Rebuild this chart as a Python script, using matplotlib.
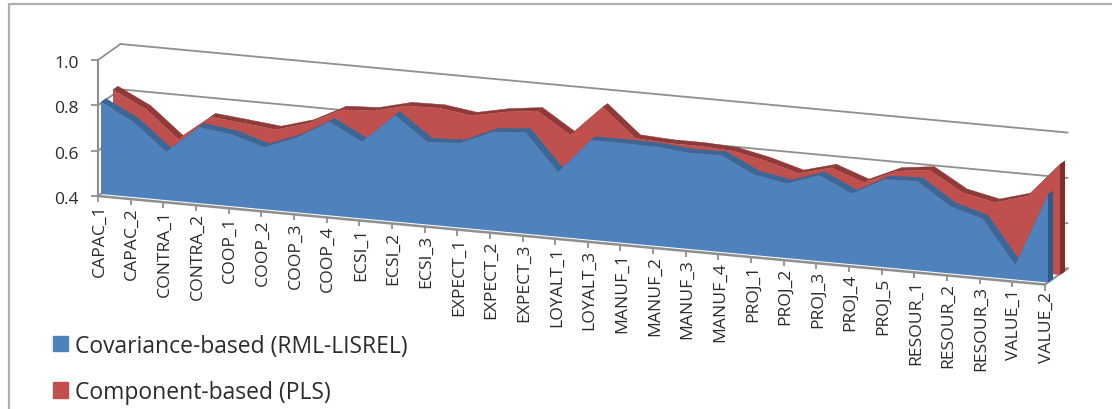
import matplotlib
matplotlib.use("Agg")
import matplotlib.pyplot as plt
from matplotlib.patches import Patch
from matplotlib.lines import Line2D
from matplotlib.transforms import Affine2D

categories = ["CAPAC_1", "CAPAC_2", "CONTRA_1", "CONTRA_2", "COOP_1", "COOP_2", "COOP_3", "COOP_4",
              "ECSI_1", "ECSI_2", "ECSI_3", "EXPECT_1", "EXPECT_2", "EXPECT_3", "LOYALT_1", "LOYALT_3",
              "MANUF_1", "MANUF_2", "MANUF_3", "MANUF_4", "PROJ_1", "PROJ_2", "PROJ_3", "PROJ_4",
              "PROJ_5", "RESOUR_1", "RESOUR_2", "RESOUR_3", "VALUE_1", "VALUE_2"]
covariance = [.806, .731, .614, .736, .718, .674, .730, .813, .738, .869, .765, .773, .836, .848, .686,
              .840, .840, .838, .825, .827, .756, .730, .779, .712, .788, .794, .697, .655, .464, .789]
component = [.827, .755, .636, .747, .733, .718, .760, .833, .841, .877, .880, .860, .890, .908, .815,
             .952, .828, .820, .820, .812, .781, .740, .779, .727, .791, .809, .724, .693, .734, .888]
y_ticks = [0.4, 0.6, 0.8, 1.0]
FLOOR = 0.4

W, H = 1112, 410
GRID = "#8f8f8f"
INK = "#2b2b2b"
fig = plt.figure(figsize=(W / 100, H / 100), dpi=100)

# Open-ended frame around the chart: left and top edges only.
fig.add_artist(Line2D([8.5 / W, 8.5 / W, 1], [0, 1 - 5 / H, 1 - 5 / H], transform=fig.transFigure,
                      color="#b0b0b0", lw=1.6))

AX_W, AX_H = 1045 - 98, 136
ax = fig.add_axes([98 / W, (H - 197) / H, AX_W / W, AX_H / H])
last = len(categories) - 1
ax.set_xlim(0, last)
ax.set_ylim(FLOOR, 1.0)
ax.patch.set_visible(False)
fig.canvas.draw()

# Oblique projection: the category axis slopes downward, depth moves up and to the right.
SLOPE = 0.0935
x0 = ax.transAxes.transform((0, 0))[0]
PX_X = AX_W / last
PX_Y = AX_H / (1.0 - FLOOR)
floor_plane = ax.transData + Affine2D.from_values(1, -SLOPE, 0, 1, 0, SLOPE * x0)


def depth(dx, dy):
    """Depth offset in pixels, expressed in category/value units of the sheared plane."""
    return dx / PX_X, (dy + SLOPE * dx) / PX_Y


def extrude(values, front, back, face, top, side, zorder):
    fx, fy = depth(*front)
    bx, by = depth(*back)
    xs = list(range(len(values)))
    for i in xs[:-1]:
        j = i + 1
        ax.fill([i + fx, j + fx, j + bx, i + bx],
                [values[i] + fy, values[j] + fy, values[j] + by, values[i] + by],
                transform=floor_plane, color=top, linewidth=0.3, clip_on=False, zorder=zorder)
    ax.fill([last + fx, last + bx, last + bx, last + fx],
            [values[-1] + fy, values[-1] + by, FLOOR + by, FLOOR + fy],
            transform=floor_plane, color=side, linewidth=0, clip_on=False, zorder=zorder)
    ax.fill([x + fx for x in xs] + [last + fx, fx],
            [v + fy for v in values] + [FLOOR + fy, FLOOR + fy],
            transform=floor_plane, color=face, linewidth=0, clip_on=False, zorder=zorder + 0.1)


# Walls: gridlines on the back plane, their returns on the side wall, and the floor edges.
wall_x, wall_y = depth(22.5, 16.0)
for v in y_ticks:
    ax.plot([wall_x, last + wall_x], [v + wall_y, v + wall_y], transform=floor_plane,
            color=GRID, lw=1.3, clip_on=False, zorder=1)
    ax.plot([0, wall_x], [v, v + wall_y], transform=floor_plane, color=GRID, lw=1.3, clip_on=False, zorder=1)
ax.plot([0, last], [FLOOR, FLOOR], transform=floor_plane, color=GRID, lw=1.8, clip_on=False, zorder=1)
ax.plot([last, last + wall_x], [FLOOR, FLOOR + wall_y], transform=floor_plane,
        color=GRID, lw=1.5, clip_on=False, zorder=1)

extrude(component, (15, 9.6), (20, 13), "#c0504d", "#8e3a38", "#7d2f2d", 3)
extrude(covariance, (3, 2), (8, 5.4), "#4f81bd", "#3c6694", "#355a85", 5)

# Axes furniture: a real y axis and real category ticks carried onto the sloping floor.
for name in ("top", "right", "bottom"):
    ax.spines[name].set_visible(False)
ax.spines["left"].set_color(GRID)
ax.spines["left"].set_linewidth(1.5)
ax.set_yticks(y_ticks)
ax.set_yticklabels([f"{v:.1f}" for v in y_ticks], fontfamily="Open Sans", fontsize=12.5, color=INK)
ax.tick_params(axis="y", length=5, width=1.3, color=GRID, pad=9)
ax.set_xticks(range(len(categories)))
ax.set_xticklabels(categories, rotation=90, fontfamily="Open Sans", fontsize=12.6, color=INK, ha="center", va="top")
ax.tick_params(axis="x", length=4.5, width=1.3, color=GRID, pad=0.5)
for i, tick in enumerate(ax.xaxis.get_major_ticks()):
    drop = -SLOPE * i * PX_X
    tick.tick1line.set_transform(tick.tick1line.get_transform() + Affine2D().translate(0, drop))
    tick.label1.set_transform(tick.label1.get_transform() + Affine2D().translate(1.5, drop))
for label in ax.get_yticklabels():
    label.set_transform(label.get_transform() + Affine2D().translate(0, -1))

handles = [Patch(color="#4f81bd"), Patch(color="#c0504d")]
fig.legend(handles, ["Covariance-based (RML-LISREL)", "Component-based (PLS)"], loc="lower left",
           bbox_to_anchor=(53 / W, 5 / H), borderaxespad=0, borderpad=0, frameon=False, handlelength=0.66,
           handleheight=0.66, handletextpad=0.28, labelspacing=0.98,
           prop={"family": "Open Sans", "size": 16.5}, labelcolor=INK)

fig.savefig("out.png", dpi=100)
